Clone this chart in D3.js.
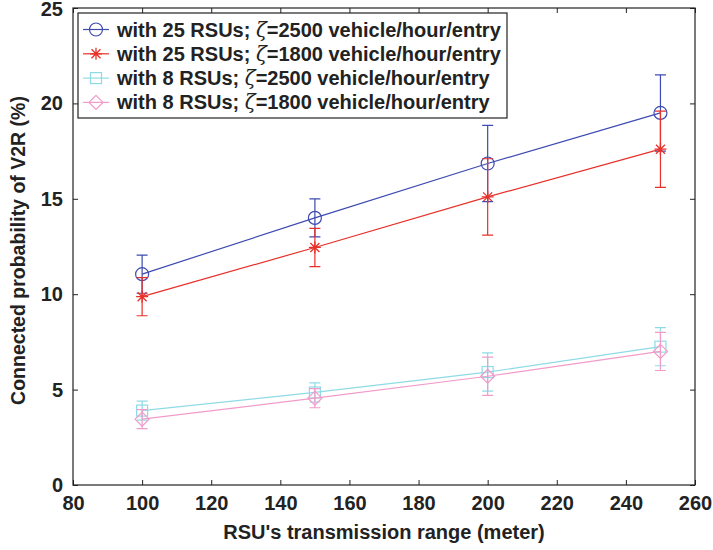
<!DOCTYPE html>
<html>
<head>
<meta charset="utf-8">
<script src="https://cdn.jsdelivr.net/npm/d3@7"></script>
<style>
  body { margin: 0; background: #fff; }
  text { font-family: "Liberation Sans", Arial, sans-serif; font-weight: bold; fill: #222; }
</style>
</head>
<body>
<div id="chart"></div>
<script>
// data
var ranges = [100, 150, 200, 250];
var rsu25_2500 = [11.05, 14.0, 16.85, 19.5];
var rsu25_2500_err = [1.0, 1.0, 2.0, 2.0];
var rsu25_1800 = [9.87, 12.45, 15.1, 17.6];
var rsu25_1800_err = [1.0, 1.0, 2.0, 2.0];
var rsu8_2500 = [3.9, 4.85, 5.92, 7.25];
var rsu8_2500_err = [0.5, 0.5, 1.0, 1.0];
var rsu8_1800 = [3.45, 4.55, 5.7, 7.0];
var rsu8_1800_err = [0.5, 0.5, 1.0, 1.0];
var xTicks = [80, 100, 120, 140, 160, 180, 200, 220, 240, 260];
var yTicks = [0, 5, 10, 15, 20, 25];
var legendPre = ["with 25 RSUs; ", "with 25 RSUs; ", "with 8 RSUs; ", "with 8 RSUs; "];
var legendPost = ["=2500 vehicle/hour/entry", "=1800 vehicle/hour/entry", "=2500 vehicle/hour/entry", "=1800 vehicle/hour/entry"];

var series = [
  {vals: rsu25_2500, err: rsu25_2500_err, color: "#3d4bb0", marker: "circle"},
  {vals: rsu25_1800, err: rsu25_1800_err, color: "#e8302a", marker: "star"},
  {vals: rsu8_2500, err: rsu8_2500_err, color: "#8edbe6", marker: "square"},
  {vals: rsu8_1800, err: rsu8_1800_err, color: "#f29bc9", marker: "diamond"}
];

var margin = {top: 8, right: 18, bottom: 65, left: 73},
    width = 713 - margin.left - margin.right,
    height = 550 - margin.top - margin.bottom;

var svg = d3.select("#chart").append("svg")
    .attr("width", 713)
    .attr("height", 550);

var x = d3.scaleLinear().domain([80, 260]).range([0, width]);
var y = d3.scaleLinear().domain([0, 25]).range([height, 0]);

var g = svg.append("g")
    .attr("transform", "translate(" + margin.left + "," + margin.top + ")");

// axes, ticks pointing inward on all four sides
g.append("g")
  .attr("transform", "translate(0," + height + ")")
  .call(d3.axisBottom(x).tickValues(xTicks).tickSizeInner(-5).tickSizeOuter(0).tickPadding(11))
  .call(function(a) { a.select(".domain").remove(); });
g.append("g")
  .call(d3.axisTop(x).tickValues(xTicks).tickSizeInner(-5).tickSizeOuter(0).tickFormat(""))
  .call(function(a) { a.select(".domain").remove(); });
var yAx = g.append("g")
  .call(d3.axisLeft(y).tickValues(yTicks).tickSizeInner(-5).tickSizeOuter(0).tickPadding(10))
  .call(function(a) { a.select(".domain").remove(); });
g.append("g")
  .attr("transform", "translate(" + width + ",0)")
  .call(d3.axisRight(y).tickValues(yTicks).tickSizeInner(-5).tickSizeOuter(0).tickFormat(""))
  .call(function(a) { a.select(".domain").remove(); });

g.selectAll(".tick line").attr("stroke", "#222").attr("stroke-width", 1);
g.selectAll(".tick text")
  .style("font-family", "'Liberation Sans', Arial, sans-serif")
  .style("font-weight", "bold")
  .style("font-size", "20px")
  .attr("fill", "#222");
// keep the top label inside the page
yAx.selectAll(".tick text").filter(function(d) { return d === 25; }).attr("y", 1.5);

g.append("rect")
  .attr("width", width)
  .attr("height", height)
  .attr("fill", "none")
  .attr("stroke", "#222")
  .attr("stroke-width", 1.2);

// axis labels
svg.append("text")
  .attr("x", margin.left + width / 2)
  .attr("y", 539)
  .attr("text-anchor", "middle")
  .style("font-size", "20px")
  .text("RSU's transmission range (meter)");

svg.append("text")
  .attr("transform", "translate(25," + (margin.top + height / 2 + 4) + ") rotate(-90)")
  .attr("text-anchor", "middle")
  .style("font-size", "19.5px")
  .text("Connected probability of V2R (%)");

function drawMarker(sel, type, color) {
  if (type === "circle") {
    sel.append("circle").attr("r", 6.5).attr("fill", "none").attr("stroke", color).attr("stroke-width", 1.2);
  } else if (type === "star") {
    sel.append("path").attr("d", "M-6,0H6M0,-6V6M-4.5,-4.5L4.5,4.5M-4.5,4.5L4.5,-4.5")
      .attr("stroke", color).attr("stroke-width", 1.3).attr("fill", "none");
  } else if (type === "square") {
    sel.append("rect").attr("x", -5.5).attr("y", -5.5).attr("width", 11).attr("height", 11)
      .attr("fill", "none").attr("stroke", color).attr("stroke-width", 1.2);
  } else {
    sel.append("path").attr("d", "M0,-7L7,0L0,7L-7,0Z")
      .attr("fill", "none").attr("stroke", color).attr("stroke-width", 1.2);
  }
}

var line = d3.line()
  .x(function(d, i) { return x(ranges[i]); })
  .y(function(d) { return y(d); });

series.forEach(function(s) {
  var sg = g.append("g");
  sg.append("path")
    .datum(s.vals)
    .attr("d", line)
    .attr("fill", "none")
    .attr("stroke", s.color)
    .attr("stroke-width", 1.2);

  s.vals.forEach(function(v, i) {
    var cx = x(ranges[i]), top = y(v + s.err[i]), bot = y(v - s.err[i]);
    sg.append("path")
      .attr("d", "M" + cx + "," + top + "V" + bot +
                 "M" + (cx - 5.5) + "," + top + "H" + (cx + 5.5) +
                 "M" + (cx - 5.5) + "," + bot + "H" + (cx + 5.5))
      .attr("stroke", s.color)
      .attr("stroke-width", 1.2)
      .attr("fill", "none");
    drawMarker(sg.append("g").attr("transform", "translate(" + cx + "," + y(v) + ")"), s.marker, s.color);
  });
});

// legend
var legend = svg.append("g").attr("transform", "translate(78,13)");
legend.append("rect")
  .attr("width", 429)
  .attr("height", 105)
  .attr("fill", "#fff")
  .attr("stroke", "#222")
  .attr("stroke-width", 1.2);

series.forEach(function(s, i) {
  var row = legend.append("g").attr("transform", "translate(0," + (16.5 + i * 24.3) + ")");
  row.append("line").attr("x1", 5).attr("x2", 31).attr("stroke", s.color).attr("stroke-width", 1.2);
  drawMarker(row.append("g").attr("transform", "translate(18,0)"), s.marker, s.color);
  var t = row.append("text").attr("x", 39).attr("y", 7).style("font-size", "20px");
  t.append("tspan").text(legendPre[i]);
  t.append("tspan").style("font-style", "italic").style("font-weight", "normal")
    .style("font-family", "'DejaVu Serif', serif").text("ζ");
  t.append("tspan").text(legendPost[i]);
});
</script>
</body>
</html>
